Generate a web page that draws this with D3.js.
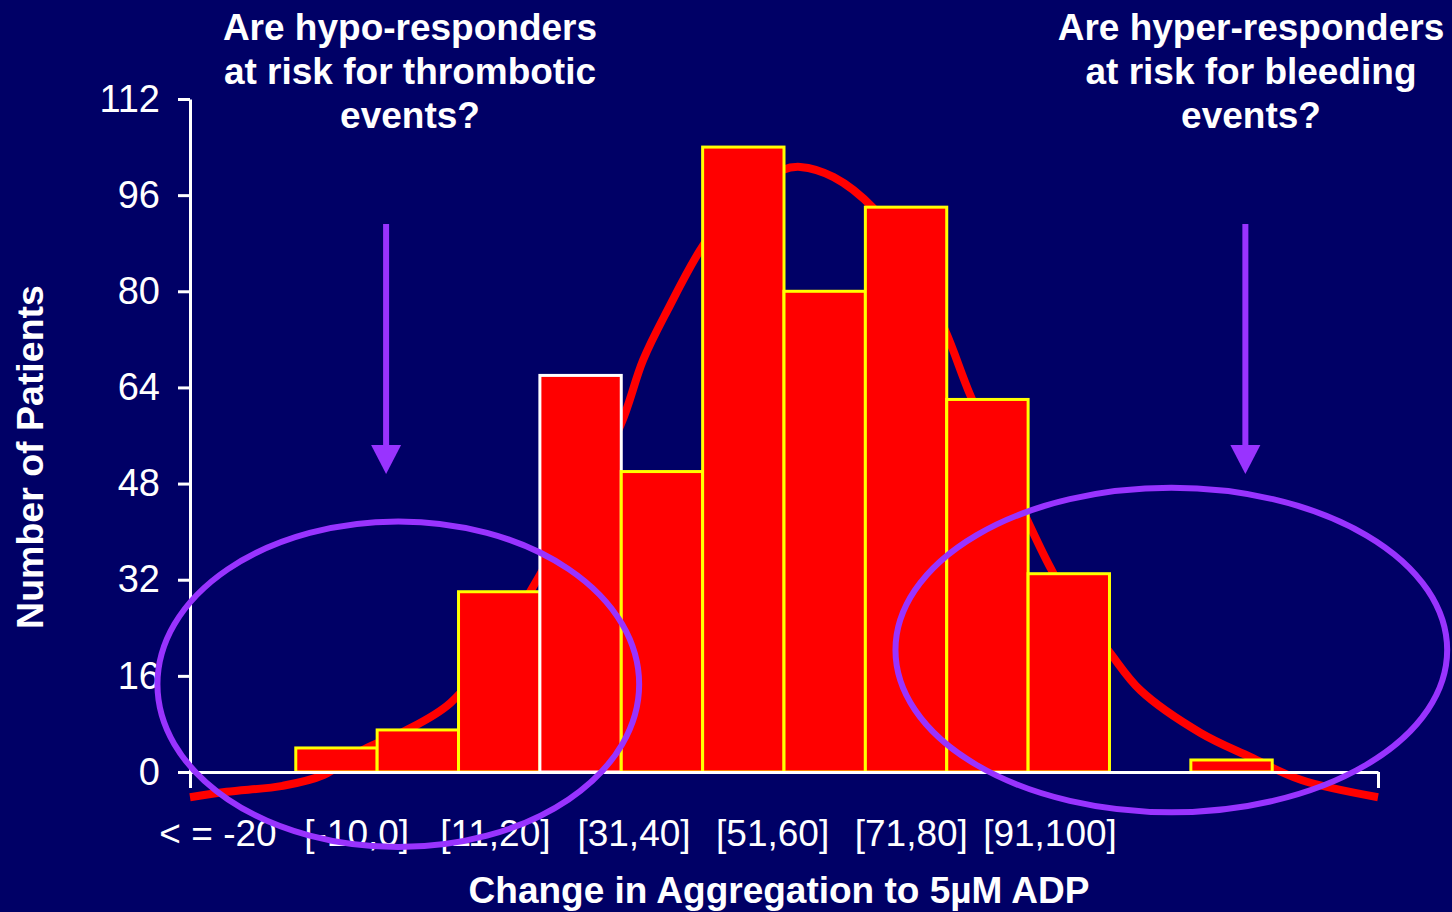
<!DOCTYPE html>
<html>
<head>
<meta charset="utf-8">
<script src="https://cdn.jsdelivr.net/npm/d3@7"></script>
<style>
  body { margin: 0; background: #000066; }
  svg { display: block; font-family: Arial, "Liberation Sans", sans-serif; }
</style>
</head>
<body>
<svg id="chart" width="1452" height="912"></svg>
<script>
// data
const binLeft = [0, 1, 2, 3, 4, 5, 6, 7, 8, 9, 10, 11];          // bin start (bin units)
const counts  = [4, 7, 30, 66, 50, 104, 80, 94, 62, 33, 0, 2];   // patients per bin
const highlightBin = 3;                                           // bar with white outline

const xLabels = ["< = -20", "[-10,0]", "[11,20]", "[31,40]", "[51,60]", "[71,80]", "[91,100]"];
const yTicks  = [0, 16, 32, 48, 64, 80, 96, 112];

// fitted curve (bin units, patients)
const curveX = [-1.3, -0.85, -0.16, 0.34, 0.83, 1.32, 1.9, 2.51, 3.0, 3.5, 3.99, 4.27, 4.57, 5.01,
                5.5, 5.98, 6.2, 6.61, 7.1, 7.55, 7.98, 8.29, 8.66, 8.99, 9.31, 9.64, 9.98, 10.38,
                11.12, 11.73, 12.35, 13.3];
const curveY = [-4.2, -3.3, -2.3, -0.5, 3.7, 6.7, 11.5, 22, 32.8, 45.3, 57.7, 68.6, 76.9, 87.7,
                96, 100.2, 100.7, 99, 93.8, 85.2, 73.5, 62.7, 51.9, 41.9, 33.1, 26.1, 20.3, 13.6,
                6.5, 2.5, -1.3, -4.2];

// annotations (bin units, patients)
const ovalCx = [1.26, 10.76];
const ovalCy = [14.6, 20.3];
const ovalRx = [2.96, 3.39];
const ovalRy = [27.1, 27.0];
const arrowX = [1.11, 11.67];
const arrowTop = 91.2, arrowTip = 49.6;

const questions = [
  ["Are hypo-responders", "at risk for thrombotic", "events?"],
  ["Are hyper-responders", "at risk for bleeding", "events?"]
];

const svg = d3.select("#chart");
const purple = "#9933ff";

svg.append("rect").attr("width", 1452).attr("height", 912).attr("fill", "#000066");

// scales
const x = d3.scaleLinear().domain([-1.3, 13.3]).range([190, 1378]);
const y = d3.scaleLinear().domain([0, 112]).range([772, 99]);
const xLab = d3.scalePoint().domain(xLabels).range([218, 1050]);

// curve behind bars
const line = d3.line()
  .x(d => x(d[0]))
  .y(d => y(d[1]))
  .curve(d3.curveCatmullRom);

svg.append("path")
  .datum(d3.zip(curveX, curveY))
  .attr("d", line)
  .attr("fill", "none")
  .attr("stroke", "#ff0000")
  .attr("stroke-width", 8);

// bars
svg.append("g")
  .selectAll("rect")
  .data(d3.zip(binLeft, counts).filter(d => d[1] > 0))
  .enter().append("rect")
    .attr("x", d => x(d[0]))
    .attr("y", d => y(d[1]))
    .attr("width", d => x(d[0] + 1) - x(d[0]))
    .attr("height", d => y(0) - y(d[1]))
    .attr("fill", "#ff0000")
    .attr("stroke", d => d[0] === highlightBin ? "#ffffff" : "#ffff00")
    .attr("stroke-width", 3);

// axes
const yAxis = svg.append("g")
  .attr("transform", `translate(${x(-1.3)},0)`)
  .call(d3.axisLeft(y).tickValues(yTicks).tickSize(12).tickSizeOuter(0).tickPadding(18));

const xAxis = svg.append("g")
  .attr("transform", `translate(0,${y(0)})`)
  .call(d3.axisBottom(x).tickValues(x.domain()).tickSize(16).tickSizeOuter(0).tickFormat(""));

[yAxis, xAxis].forEach(a => {
  a.selectAll("path, line").attr("stroke", "#ffffff").attr("stroke-width", 3);
});
yAxis.selectAll("text")
  .attr("fill", "#ffffff")
  .style("font-size", "38px")
  .style("font-family", "Arial, 'Liberation Sans', sans-serif");

// category labels
svg.append("g")
  .selectAll("text")
  .data(xLabels)
  .enter().append("text")
    .attr("x", d => xLab(d))
    .attr("y", 846)
    .attr("text-anchor", "middle")
    .attr("fill", "#ffffff")
    .style("font-size", "37px")
    .text(d => d);

// axis titles
svg.append("text")
  .attr("x", 779).attr("y", 903)
  .attr("text-anchor", "middle")
  .attr("fill", "#ffffff")
  .style("font-size", "37px").style("font-weight", "bold")
  .text("Change in Aggregation to 5µM ADP");

svg.append("text")
  .attr("transform", "translate(43,457) rotate(-90)")
  .attr("text-anchor", "middle")
  .attr("fill", "#ffffff")
  .style("font-size", "37.5px").style("font-weight", "bold")
  .text("Number of Patients");

// questions
const qx = [410, 1251];
questions.forEach((lines, i) => {
  svg.append("text")
    .attr("text-anchor", "middle")
    .attr("fill", "#ffffff")
    .style("font-size", "37px").style("font-weight", "bold")
    .selectAll("tspan")
    .data(lines)
    .enter().append("tspan")
      .attr("x", qx[i])
      .attr("y", (d, j) => 40 + j * 44)
      .text(d => d);
});

// arrows
arrowX.forEach(ax => {
  const cx = x(ax);
  svg.append("line")
    .attr("x1", cx).attr("x2", cx)
    .attr("y1", y(arrowTop)).attr("y2", y(arrowTip) - 26)
    .attr("stroke", purple).attr("stroke-width", 6);
  svg.append("path")
    .attr("d", `M${cx - 15},${y(arrowTip) - 29}L${cx + 15},${y(arrowTip) - 29}L${cx},${y(arrowTip)}Z`)
    .attr("fill", purple);
});

// ovals
svg.append("g")
  .selectAll("ellipse")
  .data(d3.range(ovalCx.length))
  .enter().append("ellipse")
    .attr("cx", i => x(ovalCx[i]))
    .attr("cy", i => y(ovalCy[i]))
    .attr("rx", i => x(ovalRx[i]) - x(0))
    .attr("ry", i => y(0) - y(ovalRy[i]))
    .attr("fill", "none")
    .attr("stroke", purple)
    .attr("stroke-width", 6);
</script>
</body>
</html>
